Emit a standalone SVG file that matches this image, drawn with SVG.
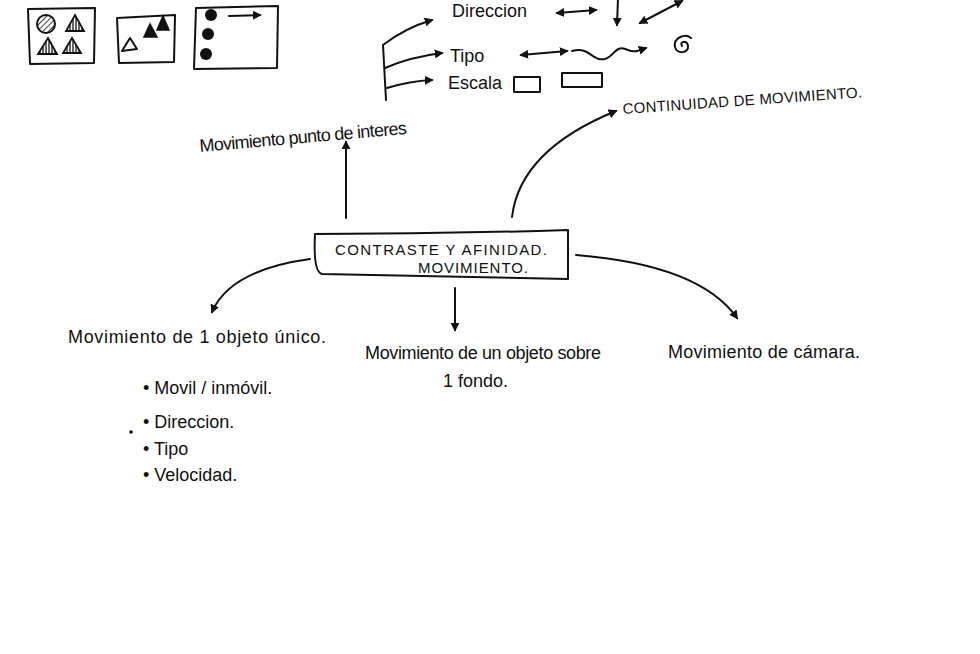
<svg xmlns="http://www.w3.org/2000/svg" width="980" height="654" viewBox="0 0 980 654">
<defs>
<marker id="ah" viewBox="0 0 10 10" refX="8" refY="5" markerWidth="9" markerHeight="9" orient="auto-start-reverse" markerUnits="userSpaceOnUse">
<path d="M0,0 L10,5 L0,10 Z" fill="#111"/>
</marker>
<pattern id="hatch" width="4" height="4" patternUnits="userSpaceOnUse" patternTransform="rotate(45)">
<line x1="0" y1="0" x2="0" y2="4" stroke="#111" stroke-width="1.6"/>
</pattern>
<pattern id="vert" width="3" height="4" patternUnits="userSpaceOnUse">
<line x1="1" y1="0" x2="1" y2="4" stroke="#111" stroke-width="1.3"/>
</pattern>
<style>
.ln{fill:none;stroke:#111;stroke-width:2;stroke-linecap:round;stroke-linejoin:round}
.t{font-family:"Liberation Sans","DejaVu Sans",sans-serif;fill:#111;font-size:18px}
.cap{font-family:"Liberation Sans","DejaVu Sans",sans-serif;fill:#111;font-size:15px}
</style>
</defs>
<rect width="980" height="654" fill="#fff"/>

<g id="thumb1">
<path class="ln" d="M28,9 L95,8 L94,63 L30,64 Z"/>
<circle cx="46" cy="24" r="9" fill="url(#hatch)" stroke="#111" stroke-width="2"/>
<path d="M75,15 L84,31 L66,31 Z" fill="url(#vert)" stroke="#111" stroke-width="1.8"/>
<path d="M48,38 L57,54 L38,54 Z" fill="url(#vert)" stroke="#111" stroke-width="1.8"/>
<path d="M72,38 L81,53 L63,53 Z" fill="url(#vert)" stroke="#111" stroke-width="1.8"/>
</g>
<g id="thumb2">
<path class="ln" d="M117,18 L175,15 L174,62 L119,63 Z"/>
<path class="ln" d="M130,38 L137,49 L122,51 Z"/>
<path d="M150,24 L157,37 L144,37 Z" fill="#111" stroke="#111" stroke-width="1.5"/>
<path d="M163,16 L169,30 L157,30 Z" fill="#111" stroke="#111" stroke-width="1.5"/>
</g>
<g id="thumb3">
<path class="ln" d="M196,8 L278,6 L277,68 L194,69 Z"/>
<circle cx="211" cy="15" r="6" fill="#111"/>
<circle cx="208" cy="34" r="6" fill="#111"/>
<circle cx="206" cy="54" r="6" fill="#111"/>
<path class="ln" d="M229,16 L260,15" marker-end="url(#ah)" stroke-width="1.5"/>
</g>

<g id="connectors">
<path class="ln" d="M383,45 L386,100"/>
<path class="ln" d="M383,45 Q405,28 432,20" marker-end="url(#ah)"/>
<path class="ln" d="M385,68 Q410,57 442,53" marker-end="url(#ah)"/>
<path class="ln" d="M387,88 Q410,81 432,80" marker-end="url(#ah)"/>
<path class="ln" d="M346,218 L346,142" marker-end="url(#ah)"/>
<path class="ln" d="M512,217 Q520,150 616,111" marker-end="url(#ah)"/>
<path class="ln" d="M310,259 Q230,270 212,312" marker-end="url(#ah)"/>
<path class="ln" d="M455,288 L455,330" marker-end="url(#ah)"/>
<path class="ln" d="M576,255 Q700,265 737,318" marker-end="url(#ah)"/>
</g>

<g id="direccion">
<text class="t" x="452" y="17">Direccion</text>
<path class="ln" d="M557,13 L596,10" marker-start="url(#ah)" marker-end="url(#ah)" stroke-width="1.6"/>
<path class="ln" d="M618,-2 L617,25" marker-end="url(#ah)" stroke-width="1.6"/>
<path class="ln" d="M640,23 L682,1" marker-start="url(#ah)" marker-end="url(#ah)" stroke-width="1.6"/>
</g>
<g id="tipo">
<text class="t" x="450" y="62">Tipo</text>
<path class="ln" d="M521,55 L567,51" marker-start="url(#ah)" marker-end="url(#ah)" stroke-width="1.6"/>
<path class="ln" d="M572,51 C590,46 592,62 605,59 C615,56 615,44 628,50 C635,53 640,50 646,48" marker-end="url(#ah)" stroke-width="1.6"/>
<path class="ln" d="M682,46 C679,41 687,40 688,46 C689,53 677,55 675,47 C673,38 685,33 691,38" stroke-width="1.8"/>
</g>
<g id="escala">
<text class="t" x="448" y="89">Escala</text>
<rect class="ln" x="514" y="77" width="26" height="15" stroke-width="1.6"/>
<rect class="ln" x="562" y="73" width="40" height="14" stroke-width="1.6"/>
</g>

<g id="interes">
<text class="t" x="200" y="152" transform="rotate(-5 200 152)" textLength="208">Movimiento punto de interes</text>
</g>

<g id="central">
<path class="ln" d="M315,234 Q313,272 322,274 L568,279 L568,230 Q440,234 315,234 Z"/>
<text class="cap" x="335" y="255" textLength="212">CONTRASTE Y AFINIDAD.</text>
<text class="cap" x="418" y="273" textLength="110">MOVIMIENTO.</text>
</g>

<g id="continuidad">
<text class="cap" x="623" y="114" transform="rotate(-4 623 114)" textLength="240">CONTINUIDAD DE MOVIMIENTO.</text>
</g>

<g id="unico">
<text class="t" x="68" y="343" textLength="258">Movimiento de 1 objeto único.</text>
<text class="t" x="143" y="394">• Movil / inmóvil.</text>
<text class="t" x="143" y="428">• Direccion.</text>
<text class="t" x="143" y="455">• Tipo</text>
<text class="t" x="143" y="481">• Velocidad.</text>
<circle cx="131" cy="432" r="1.8" fill="#111"/>
</g>

<g id="fondo">
<text class="t" x="365" y="359" textLength="236">Movimiento de un objeto sobre</text>
<text class="t" x="443" y="387">1 fondo.</text>
</g>

<g id="camara">
<text class="t" x="668" y="358" textLength="192">Movimiento de cámara.</text>
</g>
</svg>
